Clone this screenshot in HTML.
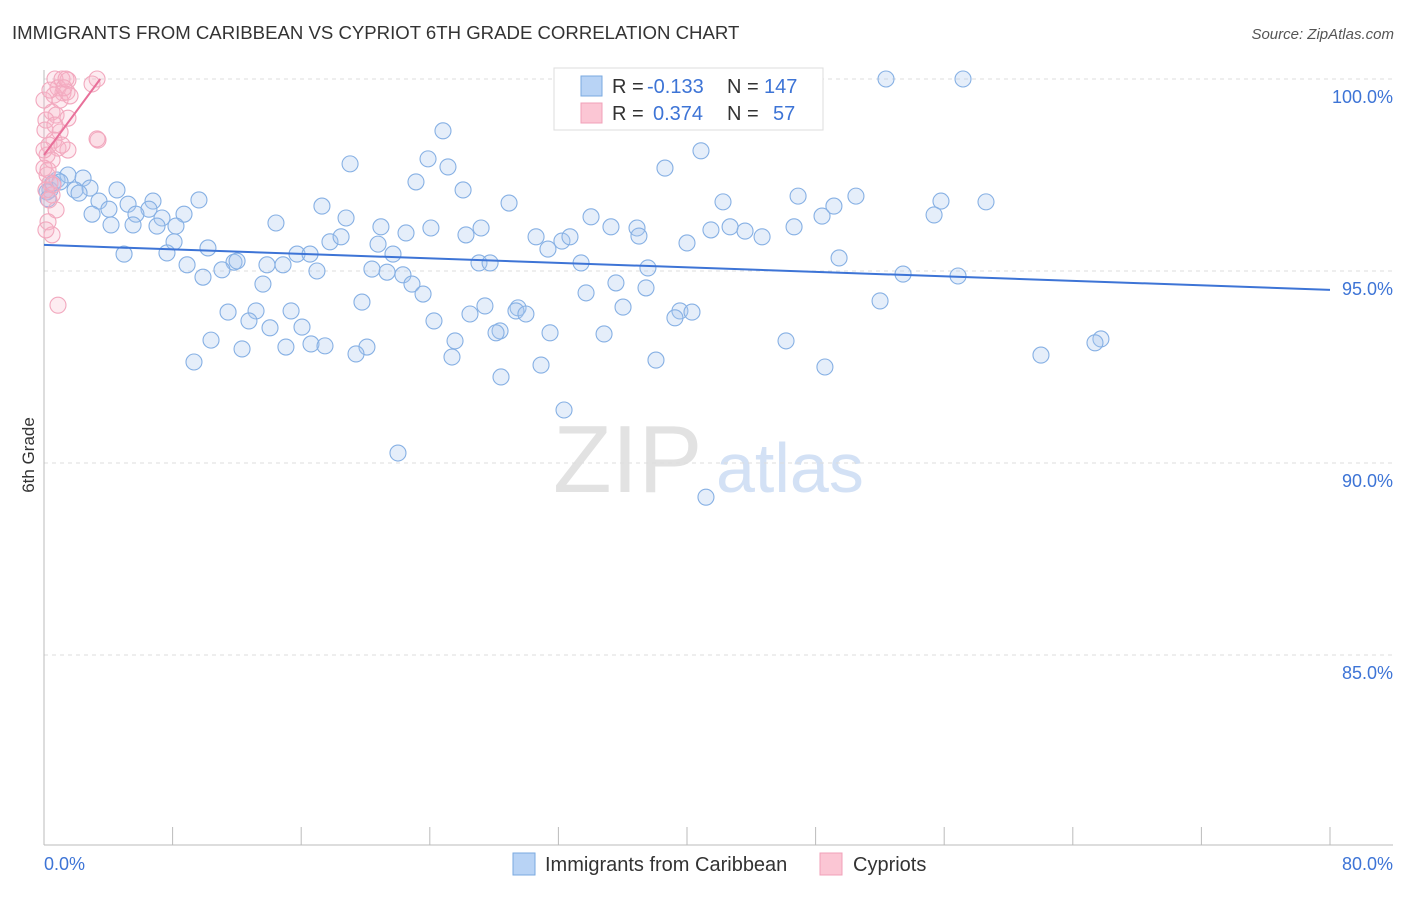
<!DOCTYPE html>
<html><head><meta charset="utf-8"><style>
body{margin:0;background:#fff;font-family:"Liberation Sans",sans-serif;}
svg text{font-family:"Liberation Sans",sans-serif;}
</style></head><body>
<svg id="chart" width="1406" height="892" viewBox="0 0 1406 892">
<text x="12" y="39" font-size="18.6" fill="#333">IMMIGRANTS FROM CARIBBEAN VS CYPRIOT 6TH GRADE CORRELATION CHART</text>
<text x="1394" y="39" font-size="15" fill="#555" font-style="italic" text-anchor="end">Source: ZipAtlas.com</text>
<g>
<text x="553" y="492" font-size="96" fill="#e2e2e2" font-family="Liberation Serif,serif">ZIP</text>
<text x="716" y="492" font-size="70" fill="#d3e1f5">atlas</text>
</g>
<g id="grid"></g>
<g id="axes"></g>
<g id="blue"></g>
<g id="pink"></g>
<g id="trends"></g>
<g>
<rect x="554" y="68" width="269" height="62" fill="#fff" stroke="#ddd"/>
<rect x="581" y="76" width="21" height="20" fill="#b8d3f5" stroke="#7aaae0"/>
<rect x="581" y="103" width="21" height="20" fill="#fbc6d4" stroke="#f0a0b8"/>
<text x="612" y="93" font-size="20" fill="#333">R = </text>
<text x="647" y="93" font-size="20" fill="#3d74d6">-0.133</text>
<text x="727" y="93" font-size="20" fill="#333">N =</text>
<text x="764" y="93" font-size="20" fill="#3d74d6">147</text>
<text x="612" y="120" font-size="20" fill="#333">R = </text>
<text x="653" y="120" font-size="20" fill="#3d74d6">0.374</text>
<text x="727" y="120" font-size="20" fill="#333">N =</text>
<text x="773" y="120" font-size="20" fill="#3d74d6">57</text>
</g>
<text transform="translate(34,455) rotate(-90)" font-size="17" fill="#333" text-anchor="middle">6th Grade</text>
<g>
<rect x="513" y="853" width="22" height="22" fill="#b8d3f5" stroke="#7aaae0"/>
<text x="545" y="871" font-size="20" fill="#333">Immigrants from Caribbean</text>
<rect x="820" y="853" width="22" height="22" fill="#fbc6d4" stroke="#f0a0b8"/>
<text x="853" y="871" font-size="20" fill="#333">Cypriots</text>
</g>
</svg>
<script>
const yTicks=[100,95,90,85];
const yTickLabels=["100.0%","95.0%","90.0%","85.0%"];
const xTickCount=10;
const xLabels=["0.0%","80.0%"];
const blueX=[52.38,57.17,24.82,40.87,23.89,19.04,38.63,25.13,23.14,26.07,46.91,50.51,28.93,42.24,55.80,58.60,9.64,17.29,49.14,18.79,34.03,48.40,55.37,14.43,20.96,24.07,35.27,36.89,42.68,43.61,46.66,41.49,27.19,22.52,26.25,30.61,32.22,32.72,37.01,44.67,17.79,18.48,20.78,40.00,31.35,21.71,15.74,16.55,49.46,8.90,11.82,13.87,14.87,16.98,20.40,27.06,27.75,33.41,37.57,21.34,22.33,11.07,9.89,53.44,56.86,22.89,13.62,35.58,37.45,23.58,33.72,19.78,27.43,52.01,36.02,11.45,13.19,12.75,15.37,29.49,29.36,29.98,39.56,40.31,26.50,39.25,24.26,14.06,16.05,28.37,28.12,31.48,34.84,10.39,25.57,46.16,65.75,65.38,12.32,15.05,16.61,17.48,20.09,19.41,25.38,62.02,9.33,30.92,38.07,48.58,28.43,32.35,22.02,41.18,0.81,1.49,2.43,2.86,1.93,2.18,0.37,4.54,3.42,6.78,5.23,4.04,6.53,2.99,5.72,7.34,8.71,4.17,5.54,7.03,8.21,8.09,10.20,4.98,7.65,12.01,0.56,1.00,0.19,0.25];
const blueY=[100,100,98.65,98.13,97.92,97.79,97.68,97.71,97.32,97.11,96.95,96.95,96.77,96.80,96.82,96.80,96.85,96.69,96.69,96.38,96.41,96.43,96.46,96.25,96.15,96.12,96.15,96.12,96.15,96.04,96.15,96.07,96.12,95.99,95.94,95.89,95.78,95.89,95.91,95.89,95.76,95.89,95.70,95.73,95.57,95.44,95.44,95.44,95.34,95.16,95.23,95.16,95.16,95.00,95.05,95.21,95.21,95.21,95.08,94.97,94.90,95.03,94.84,94.92,94.87,94.66,94.66,94.69,94.56,94.40,94.43,94.19,94.09,94.22,94.06,93.93,93.96,93.70,93.96,94.04,93.96,93.88,93.96,93.93,93.88,93.78,93.70,93.52,93.54,93.44,93.39,93.39,93.36,93.20,93.18,93.18,93.23,93.13,92.97,93.02,93.10,93.05,93.02,92.84,92.76,92.81,92.63,92.55,92.68,92.50,92.24,91.38,90.26,89.11,97.37,97.50,97.42,97.16,97.11,97.03,97.11,97.11,96.82,96.82,96.74,96.61,96.61,96.48,96.48,96.38,96.48,96.20,96.20,96.17,96.17,95.76,95.60,95.44,95.47,95.26,97.29,97.32,97.06,96.88];
const pinkX=[0.68,1.12,1.49,2.99,3.30,0.87,1.18,1.43,0.62,1.00,0.50,0.75,1.49,0.12,3.36,3.30,1.00,0.62,0.31,0.87,1.49,0.19,0.50,0,0.19,0.37,0.12,0.50,0.75,0.25,0.50,0.12,0.87,0,0.37,1.62,0.06,0.68,1.12,0.31,0.56,1.24,1.37,0,0.25];
const pinkY=[100,100,99.97,99.87,100,99.77,99.64,99.66,99.58,99.45,99.14,99.06,98.98,98.93,98.41,98.44,98.62,98.41,98.28,98.20,98.15,98.02,97.89,97.68,97.50,97.29,97.11,96.98,96.59,96.28,95.94,96.07,94.11,99.45,99.71,99.56,98.67,98.80,98.28,96.85,97.24,99.77,100,98.15,97.63];
const blueTrend=[95.68,94.51];
const pinkTrend=[98.02,100];
const pinkTrendX=[0,3.5];

const NS="http://www.w3.org/2000/svg";
const X0=44,X1=1330,Y0=79,YB=845;
const sx=v=>X0+(v/80)*(X1-X0);
const sy=v=>Y0+(100-v)*38.4;
function mk(tag,attrs,parent){const e=document.createElementNS(NS,tag);for(const k in attrs)e.setAttribute(k,attrs[k]);parent.appendChild(e);return e;}
const grid=document.getElementById('grid'),axes=document.getElementById('axes');
yTicks.forEach((t,i)=>{
  const l=mk('line',{x1:X0,x2:1393,y1:sy(t),y2:sy(t),stroke:'#ddd','stroke-dasharray':'4,4'},grid);
  
  
  const tx=mk('text',{x:1393,y:sy(t)+24,'font-size':18,fill:'#3d74d6','text-anchor':'end'},axes);
  tx.textContent=yTickLabels[i];
  
  
});
const ya=mk('line',{x1:X0,x2:X0,y1:70,y2:YB,stroke:'#bbb'},axes);


const xa=mk('line',{x1:X0,x2:1393,y1:YB,y2:YB,stroke:'#bbb'},axes);


for(let i=0;i<=xTickCount;i++){
  const x=sx(i*80/xTickCount);
  const t=mk('line',{x1:x,x2:x,y1:827,y2:YB,stroke:'#bbb'},axes);
  
  
}
const xl0=mk('text',{x:44,y:870,'font-size':18,fill:'#3d74d6'},axes);
xl0.textContent=xLabels[0];


const xl1=mk('text',{x:1393,y:870,'font-size':18,fill:'#3d74d6','text-anchor':'end'},axes);
xl1.textContent=xLabels[1];


const bg=document.getElementById('blue');
blueX.forEach((v,i)=>{
  const c=mk('circle',{cx:sx(v),cy:sy(blueY[i]),r:8,fill:'rgba(170,200,240,0.3)',stroke:'#86b0e4','stroke-width':1.1},bg);
  
  
});
const pg=document.getElementById('pink');
pinkX.forEach((v,i)=>{
  const c=mk('circle',{cx:sx(v),cy:sy(pinkY[i]),r:8,fill:'rgba(248,180,200,0.25)',stroke:'#f2a8be','stroke-width':1.1},pg);
  
  
});
const tg=document.getElementById('trends');
const bt=mk('line',{x1:sx(0),y1:sy(blueTrend[0]),x2:sx(80),y2:sy(blueTrend[1]),stroke:'#3d74d6','stroke-width':2},tg);


const pt=mk('line',{x1:sx(pinkTrendX[0]),y1:sy(pinkTrend[0]),x2:sx(pinkTrendX[1]),y2:sy(pinkTrend[1]),stroke:'#e8709a','stroke-width':2},tg);


</script>
</body></html>
